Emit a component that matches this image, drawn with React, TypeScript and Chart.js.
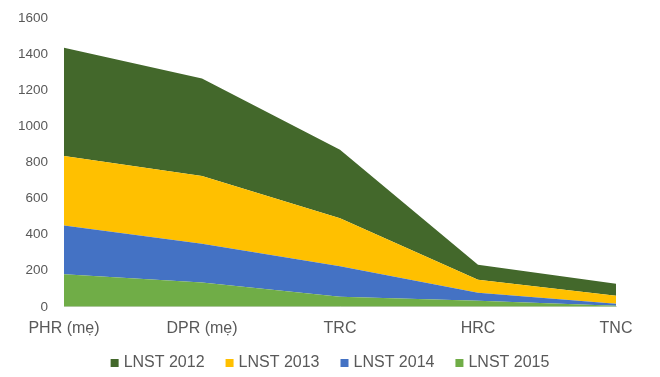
import React, { useEffect, useRef } from "react";
import { Chart, registerables } from "chart.js";

Chart.register(...registerables);

const categories = ["PHR (mẹ)", "DPR (mẹ)", "TRC", "HRC", "TNC"];
const lnst2015 = [180, 135, 55, 33, 6];
const lnst2014 = [270, 215, 170, 45, 11];
const lnst2013 = [385, 375, 265, 72, 44];
const lnst2012 = [600, 540, 380, 83, 67];

const seriesNames = ["LNST 2015", "LNST 2014", "LNST 2013", "LNST 2012"];
const seriesColors = ["#70AD47", "#4472C4", "#FFC000", "#43682B"];

const FONT = "'Liberation Sans', Arial, sans-serif";
const TEXT = "#595959";

// Legend drawn below the x axis, in reversed dataset order (2012 first)
const bottomLegend = {
  id: "bottomLegend",
  afterDraw(chart: any) {
    const ctx = chart.ctx;
    const items = chart.data.datasets
      .map((d: any) => ({ text: d.label, color: d.backgroundColor }))
      .reverse();
    ctx.save();
    ctx.font = `16px ${FONT}`;
    const box = 8;
    const gapText = 5;
    const gapItem = 21;
    const widths = items.map((it: any) => box + gapText + ctx.measureText(it.text).width);
    const total = widths.reduce((a: number, b: number) => a + b, 0) + gapItem * (items.length - 1);
    let x = (chart.width - total) / 2;
    const cy = 363;
    ctx.textBaseline = "middle";
    ctx.textAlign = "left";
    items.forEach((it: any, i: number) => {
      ctx.fillStyle = it.color;
      ctx.fillRect(x, cy - box / 2, box, box);
      ctx.fillStyle = TEXT;
      ctx.fillText(it.text, x + box + gapText, cy);
      x += widths[i] + gapItem;
    });
    ctx.restore();
  },
};

export default function App() {
  const ref = useRef<HTMLCanvasElement | null>(null);

  useEffect(() => {
    if (!ref.current) return;
    const values = [lnst2015, lnst2014, lnst2013, lnst2012];
    const chart = new Chart(ref.current, {
      type: "line",
      data: {
        labels: categories,
        datasets: values.map((v, i) => ({
          label: seriesNames[i],
          data: v,
          backgroundColor: seriesColors[i],
          borderColor: seriesColors[i],
          borderWidth: 0,
          pointRadius: 0,
          fill: i === 0 ? "origin" : "-1",
          tension: 0,
        })),
      },
      plugins: [bottomLegend],
      options: {
        animation: false,
        responsive: true,
        maintainAspectRatio: false,
        layout: { padding: { top: 18, right: 44, left: 0, bottom: 27 } },
        plugins: {
          tooltip: { enabled: false },
          legend: { display: false },
        },
        scales: {
          x: {
            offset: false,
            grid: { display: false, drawTicks: false },
            border: { display: true, color: "#D9D9D9" },
            ticks: {
              color: TEXT,
              font: { family: FONT, size: 16 },
              padding: 12,
              maxRotation: 0,
            },
          },
          y: {
            stacked: true,
            min: 0,
            max: 1600,
            grid: { display: false, drawTicks: true, tickLength: 16 },
            border: { display: false },
            ticks: {
              stepSize: 200,
              color: TEXT,
              font: { family: FONT, size: 13.5 },
              padding: 0,
              callback: (v: any) => String(v),
            },
            afterFit: (s: any) => {
              s.width = 64;
            },
          },
        },
      },
    });
    return () => chart.destroy();
  }, []);

  return (
    <div style={{ position: "fixed", left: 0, top: 0, width: 660, height: 377, background: "#fff" }}>
      <canvas ref={ref} />
    </div>
  );
}
